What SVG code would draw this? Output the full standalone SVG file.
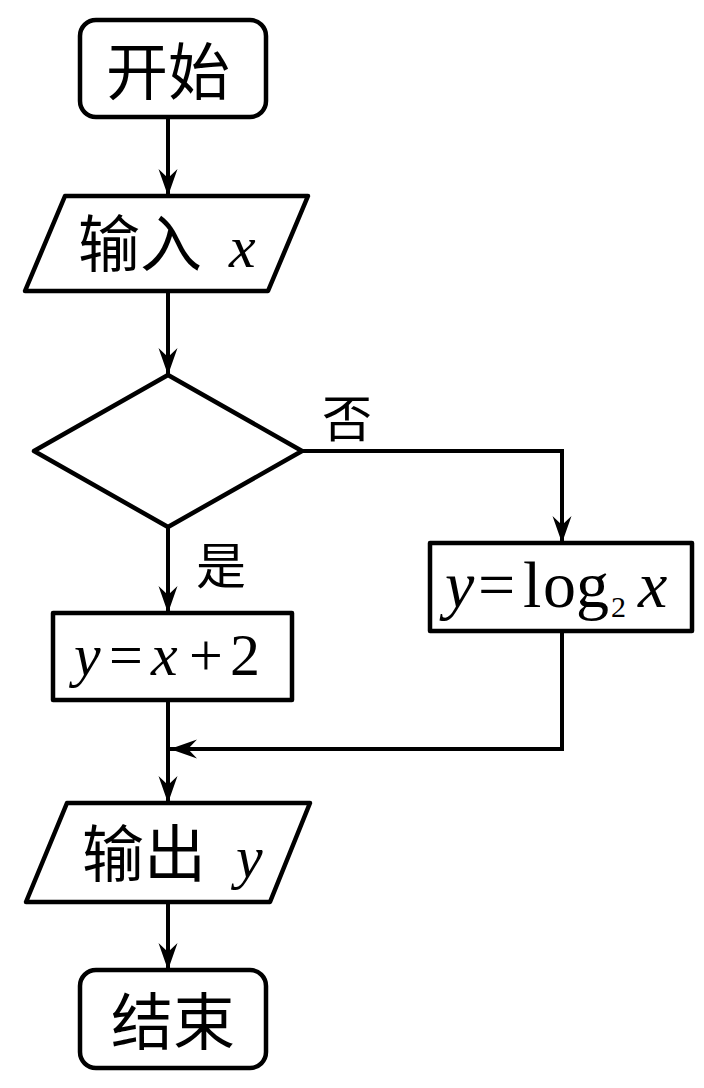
<svg xmlns="http://www.w3.org/2000/svg" width="704" height="1088" viewBox="0 0 704 1088">
<style>
.s{fill:#fff;stroke:#000;stroke-width:4.5;stroke-linejoin:round}
.c{fill:none;stroke:#000;stroke-width:4;stroke-linejoin:miter}
.cjk{font-family:"Noto Sans CJK SC","Noto Sans CJK JP",sans-serif;font-size:62px;fill:#000}
.m{font-family:"Liberation Serif","Times New Roman",serif;fill:#000}
.i{font-style:italic}
.lbl{font-family:"Noto Sans CJK SC",sans-serif;font-size:50px;fill:#000}
</style>
<defs>
<marker id="ah" markerUnits="userSpaceOnUse" markerWidth="30" markerHeight="24" viewBox="-28 -12 30 24" refX="0" refY="0" orient="auto">
<path d="M0,0 L-27,-9.5 L-18,0 L-27,9.5 Z" fill="#000"/>
</marker>
</defs>
<rect width="704" height="1088" fill="#fff"/>
<g id="connectors">
<line class="c" x1="168" y1="117" x2="168" y2="196" marker-end="url(#ah)"/>
<line class="c" x1="168" y1="291" x2="168" y2="375" marker-end="url(#ah)"/>
<line class="c" x1="168" y1="527" x2="168" y2="613" marker-end="url(#ah)"/>
<polyline class="c" points="302,451 562,451 562,543" marker-end="url(#ah)"/>
<line class="c" x1="168" y1="700" x2="168" y2="803" marker-end="url(#ah)"/>
<polyline class="c" points="562,631 562,749 170,749" marker-end="url(#ah)"/>
<line class="c" x1="168" y1="902" x2="168" y2="970" marker-end="url(#ah)"/>
<text class="lbl" x="322" y="437">否</text>
<text class="lbl" x="196" y="584">是</text>
</g>
<g id="start">
<rect class="s" x="80" y="20" width="186" height="97" rx="16"/>
<text class="cjk" x="168" y="95" text-anchor="middle" font-size="64">开始</text>
</g>
<g id="input">
<polygon class="s" points="65,196 308,196 268,291 25,291"/>
<text x="78" y="267"><tspan class="cjk">输入</tspan><tspan class="m i" font-size="60" x="229">x</tspan></text>
</g>
<g id="decision">
<polygon class="s" points="168,375 302,451 168,527 34,451"/>
</g>
<g id="calc1">
<rect class="s" x="53" y="613" width="239" height="87"/>
<text class="m" y="675" font-size="60"><tspan class="i" x="74">y</tspan><tspan x="109">=</tspan><tspan class="i" x="151">x</tspan><tspan x="189">+</tspan><tspan x="230">2</tspan></text>
</g>
<g id="calc2">
<rect class="s" x="430" y="543" width="262" height="88"/>
<text class="m" y="607" font-size="66"><tspan class="i" x="445">y</tspan><tspan x="478">=</tspan><tspan x="523">l</tspan><tspan x="543">o</tspan><tspan x="576">g</tspan><tspan x="611" y="617" font-size="30">2</tspan><tspan class="i" x="638" y="607">x</tspan></text>
</g>
<g id="output">
<polygon class="s" points="67,803 310,803 270,902 26,902"/>
<text x="82" y="877"><tspan class="cjk">输出</tspan><tspan class="m i" font-size="60" x="236">y</tspan></text>
</g>
<g id="end">
<rect class="s" x="80" y="970" width="186" height="98" rx="16"/>
<text class="cjk" x="173" y="1045" text-anchor="middle" font-size="64">结束</text>
</g>
</svg>
